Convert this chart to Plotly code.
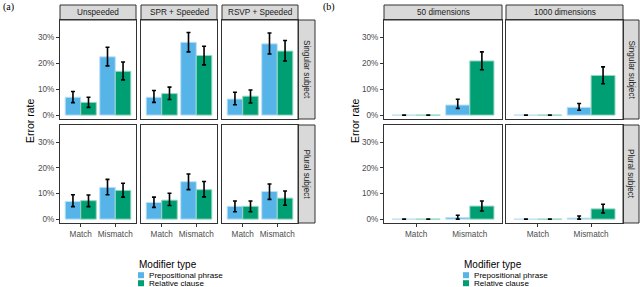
import plotly.graph_objects as go

# ---------------- data (error rates in %) ----------------
conditions_a = ["Unspeeded", "SPR + Speeded", "RSVP + Speeded"]
conditions_b = ["50 dimensions", "1000 dimensions"]
subjects = ["Singular subject", "Plural subject"]
attractor = ["Match", "Mismatch"]
modifiers = ["Prepositional phrase", "Relative clause"]
y_ticks = [0, 10, 20, 30]

# panel (a): one [Match, Mismatch] pair per condition
a_sing_pp = [[6.9, 22.5], [6.9, 28.1], [6.2, 27.5]]
a_sing_pp_lo = [[4.8, 19.0], [4.9, 24.4], [4.0, 23.6]]
a_sing_pp_hi = [[9.1, 26.2], [9.5, 31.9], [8.8, 31.7]]
a_sing_rc = [[4.9, 16.9], [8.3, 23.0], [7.3, 24.7]]
a_sing_rc_lo = [[3.0, 13.6], [6.0, 19.4], [4.7, 20.9]]
a_sing_rc_hi = [[6.9, 20.5], [10.8, 26.6], [9.7, 28.8]]
a_plur_pp = [[6.9, 12.4], [6.5, 14.6], [5.0, 10.8]]
a_plur_pp_lo = [[4.9, 9.5], [4.6, 11.5], [2.9, 7.7]]
a_plur_pp_hi = [[9.5, 15.5], [8.6, 17.6], [7.1, 13.7]]
a_plur_rc = [[7.2, 11.2], [7.4, 11.5], [5.0, 8.2]]
a_plur_rc_lo = [[4.9, 8.6], [5.3, 8.7], [2.9, 5.4]]
a_plur_rc_hi = [[9.4, 14.0], [10.1, 14.7], [7.1, 11.0]]

# panel (b)
b_sing_pp = [[0.0, 3.9], [0.0, 3.0]]
b_sing_pp_lo = [[0.0, 2.6], [0.0, 1.9]]
b_sing_pp_hi = [[0.0, 6.1], [0.0, 4.5]]
b_sing_rc = [[0.0, 20.9], [0.0, 15.3]]
b_sing_rc_lo = [[0.0, 17.5], [0.0, 12.1]]
b_sing_rc_hi = [[0.0, 24.4], [0.0, 18.6]]
b_plur_pp = [[0.0, 0.6], [0.0, 0.4]]
b_plur_pp_lo = [[0.0, 0.0], [0.0, 0.0]]
b_plur_pp_hi = [[0.0, 1.5], [0.0, 1.2]]
b_plur_rc = [[0.0, 5.1], [0.0, 4.0]]
b_plur_rc_lo = [[0.0, 3.2], [0.0, 2.4]]
b_plur_rc_hi = [[0.0, 7.1], [0.0, 5.8]]

# ---------------- styling / layout ----------------
W, H = 640, 287
FONT = "Liberation Sans, Arial, sans-serif"
COL_PP = "#56B4E9"
COL_RC = "#009E73"
LINE_PP = "rgba(190,225,245,1)"
LINE_RC = "rgba(150,215,195,1)"
BORDER = "#333333"
STRIP_FILL = "#d9d9d9"
TICK_COL = "#4d4d4d"

def px(x):
    return x / W

def py(y):
    return 1 - y / H

cols_a = [(60, 136), (141, 217), (222, 298)]
cols_b = [(384, 502), (506, 623)]
rows = [(20, 119), (125, 223)]
strip_top = (5, 20)
right_strip_a = (298, 315)
right_strip_b = (623, 639)

fig = go.Figure()
layout = dict(
    width=W, height=H, autosize=False,
    margin=dict(l=0, r=0, t=0, b=0),
    paper_bgcolor="white", plot_bgcolor="white",
    barmode="group", bargap=0.1, bargroupgap=0.0,
    showlegend=False,
    font=dict(family=FONT, size=8.2, color=TICK_COL),
)
shapes = []
annotations = []

panels = []
for ci, (x0, x1) in enumerate(cols_a):
    panels.append(("a", ci, 0, (x0, x1), rows[0],
                   a_sing_pp[ci], a_sing_pp_lo[ci], a_sing_pp_hi[ci],
                   a_sing_rc[ci], a_sing_rc_lo[ci], a_sing_rc_hi[ci]))
    panels.append(("a", ci, 1, (x0, x1), rows[1],
                   a_plur_pp[ci], a_plur_pp_lo[ci], a_plur_pp_hi[ci],
                   a_plur_rc[ci], a_plur_rc_lo[ci], a_plur_rc_hi[ci]))
for ci, (x0, x1) in enumerate(cols_b):
    panels.append(("b", ci, 0, (x0, x1), rows[0],
                   b_sing_pp[ci], b_sing_pp_lo[ci], b_sing_pp_hi[ci],
                   b_sing_rc[ci], b_sing_rc_lo[ci], b_sing_rc_hi[ci]))
    panels.append(("b", ci, 1, (x0, x1), rows[1],
                   b_plur_pp[ci], b_plur_pp_lo[ci], b_plur_pp_hi[ci],
                   b_plur_rc[ci], b_plur_rc_lo[ci], b_plur_rc_hi[ci]))

for k, (part, ci, ri, (x0, x1), (y0, y1), pp, pplo, pphi, rc, rclo, rchi) in enumerate(panels, start=1):
    xa = "x" if k == 1 else f"x{k}"
    ya = "y" if k == 1 else f"y{k}"
    for name, vals, lo, hi, col, lcol in [
        (modifiers[0], pp, pplo, pphi, COL_PP, LINE_PP),
        (modifiers[1], rc, rclo, rchi, COL_RC, LINE_RC),
    ]:
        fig.add_trace(go.Bar(
            x=attractor, y=vals, name=name, xaxis=xa, yaxis=ya,
            marker=dict(color=col, line=dict(color=lcol, width=1)),
            error_y=dict(type="data", symmetric=False,
                         array=[h - v for h, v in zip(hi, vals)],
                         arrayminus=[v - l for v, l in zip(vals, lo)],
                         color="black", thickness=1.6, width=2),
            hoverinfo="skip",
        ))
    bottom = ri == 1
    left = ci == 0
    layout["xaxis" if k == 1 else f"xaxis{k}"] = dict(
        domain=[px(x0), px(x1)], anchor=ya, type="category",
        range=[-0.6, 1.6], showgrid=False, zeroline=False,
        showline=True, mirror=True, linecolor=BORDER, linewidth=1,
        ticks="outside" if bottom else "", ticklen=3, tickcolor=BORDER,
        showticklabels=bottom, tickfont=dict(size=8.2, color=TICK_COL),
    )
    layout["yaxis" if k == 1 else f"yaxis{k}"] = dict(
        domain=[py(y1), py(y0)], anchor=xa,
        range=[-1.5, 36.7], showgrid=False, zeroline=False,
        showline=True, mirror=True, linecolor=BORDER, linewidth=1,
        tickvals=y_ticks, ticktext=[f"{t}%" for t in y_ticks],
        ticks="outside" if left else "", ticklen=3, tickcolor=BORDER,
        showticklabels=left, tickfont=dict(size=8.2, color=TICK_COL),
    )

# strips
def strip_rect(x0, x1, y0, y1):
    shapes.append(dict(type="rect", xref="paper", yref="paper",
                       x0=px(x0), x1=px(x1), y0=py(y1), y1=py(y0),
                       fillcolor=STRIP_FILL, line=dict(color=BORDER, width=1),
                       layer="below"))

for names, cols, rs in [(conditions_a, cols_a, right_strip_a),
                        (conditions_b, cols_b, right_strip_b)]:
    for name, (x0, x1) in zip(names, cols):
        strip_rect(x0, x1, *strip_top)
        annotations.append(dict(text=name, xref="paper", yref="paper",
                                x=px((x0 + x1) / 2), y=py((strip_top[0] + strip_top[1]) / 2),
                                showarrow=False, xanchor="center", yanchor="middle",
                                font=dict(family=FONT, size=8.2, color="#1a1a1a")))
    for name, (y0, y1) in zip(subjects, rows):
        strip_rect(rs[0], rs[1], y0, y1)
        annotations.append(dict(text=name, xref="paper", yref="paper",
                                x=px((rs[0] + rs[1]) / 2), y=py((y0 + y1) / 2),
                                showarrow=False, xanchor="center", yanchor="middle",
                                textangle=90,
                                font=dict(family=FONT, size=8.2, color="#1a1a1a")))

# panel labels and axis titles
for lab, xpos in [("(a)", 1), ("(b)", 321)]:
    annotations.append(dict(text=lab, xref="paper", yref="paper", x=px(xpos), y=py(7),
                            showarrow=False, xanchor="left", yanchor="middle",
                            font=dict(family="Liberation Serif, Times New Roman, serif",
                                      size=10, color="black")))
for xpos in [30, 355]:
    annotations.append(dict(text="Error rate", xref="paper", yref="paper",
                            x=px(xpos), y=py(121), showarrow=False, textangle=-90,
                            xanchor="center", yanchor="middle",
                            font=dict(family=FONT, size=10.5, color="black")))

# legends (manual, ggplot-style compact)
for lx in [137, 462]:
    annotations.append(dict(text="Modifier type", xref="paper", yref="paper",
                            x=px(lx), y=py(264), showarrow=False,
                            xanchor="left", yanchor="middle",
                            font=dict(family=FONT, size=10, color="black")))
    for i, (name, col) in enumerate(zip(modifiers, [COL_PP, COL_RC])):
        yc = 275.2 + 8 * i
        shapes.append(dict(type="rect", xref="paper", yref="paper",
                           x0=px(lx + 1), x1=px(lx + 7), y0=py(yc + 3), y1=py(yc - 3),
                           fillcolor=col, line=dict(width=0)))
        annotations.append(dict(text=name, xref="paper", yref="paper",
                                x=px(lx + 10), y=py(yc), showarrow=False,
                                xanchor="left", yanchor="middle",
                                font=dict(family=FONT, size=8.1, color="black")))

layout["shapes"] = shapes
layout["annotations"] = annotations
fig.update_layout(**layout)
fig.write_html(
    "out.html",
    config={"displayModeBar": False, "staticPlot": True},
    post_script="document.body.style.margin='0';document.body.style.overflow='hidden';",
)
